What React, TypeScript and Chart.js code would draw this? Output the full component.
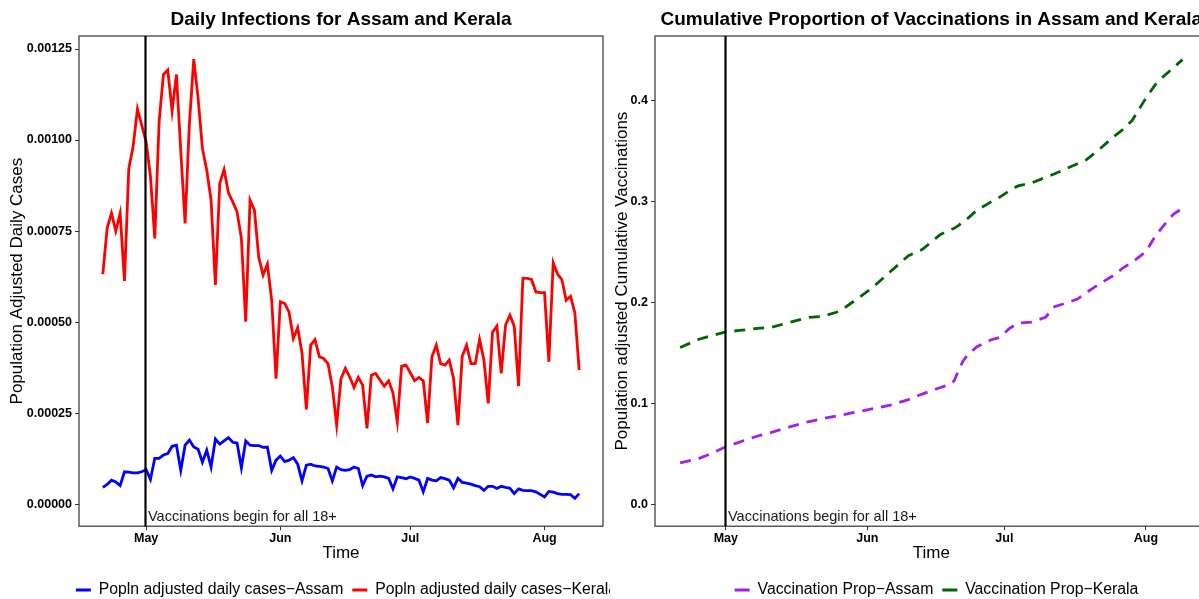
import React, { useEffect, useRef } from "react";
import { Chart, registerables } from "chart.js";

Chart.register(...registerables);

const FONT = '"Liberation Sans", Arial, Helvetica, sans-serif';
Chart.defaults.font.family = FONT;

// Day offsets are counted from 2021-04-21 (day 0) to 2021-08-09 (day 110)
const START_DATE = "2021-04-21";
const MONTH_TICK_DAYS = [10, 41, 71, 102];
const MONTH_LABELS = ["May", "Jun", "Jul", "Aug"];
const VACC_START_DAY = 10;
const ANNOTATION = "Vaccinations begin for all 18+";

const CASES_Y_TICKS = [0, 0.00025, 0.0005, 0.00075, 0.001, 0.00125];
const CASES_Y_LABELS = ["0.00000", "0.00025", "0.00050", "0.00075", "0.00100", "0.00125"];
const VACC_Y_TICKS = [0, 0.1, 0.2, 0.3, 0.4];
const VACC_Y_LABELS = ["0.0", "0.1", "0.2", "0.3", "0.4"];

const KERALA_CASES = [
  6.32e-4, 7.58e-4, 7.99e-4, 7.5e-4, 7.99e-4, 6.13e-4, 9.22e-4, 9.82e-4, 1.085e-3, 1.04e-3,
  9.95e-4, 9.0e-4, 7.3e-4, 1.05e-3, 1.18e-3, 1.192e-3, 1.08e-3, 1.18e-3, 9.7e-4, 7.71e-4,
  1.046e-3, 1.222e-3, 1.115e-3, 9.77e-4, 9.17e-4, 8.35e-4, 6.02e-4, 8.81e-4, 9.19e-4, 8.55e-4,
  8.3e-4, 8.03e-4, 7.3e-4, 5.01e-4, 8.35e-4, 8.08e-4, 6.79e-4, 6.29e-4, 6.59e-4, 5.6e-4,
  3.45e-4, 5.56e-4, 5.51e-4, 5.28e-4, 4.55e-4, 4.85e-4, 4.14e-4, 2.6e-4, 4.37e-4, 4.52e-4,
  4.05e-4, 4.0e-4, 3.86e-4, 3.22e-4, 2.17e-4, 3.45e-4, 3.73e-4, 3.5e-4, 3.21e-4, 3.48e-4,
  3.27e-4, 2.08e-4, 3.54e-4, 3.59e-4, 3.41e-4, 3.24e-4, 3.39e-4, 3.06e-4, 2.26e-4, 3.79e-4,
  3.82e-4, 3.61e-4, 3.39e-4, 3.48e-4, 3.39e-4, 2.23e-4, 4.05e-4, 4.37e-4, 3.86e-4, 3.82e-4,
  3.96e-4, 3.45e-4, 2.17e-4, 4.07e-4, 4.37e-4, 3.86e-4, 3.86e-4, 4.52e-4, 3.96e-4, 2.77e-4,
  4.73e-4, 4.89e-4, 3.59e-4, 4.92e-4, 5.19e-4, 4.89e-4, 3.24e-4, 6.2e-4, 6.2e-4, 6.17e-4,
  5.83e-4, 5.81e-4, 5.81e-4, 3.91e-4, 6.63e-4, 6.32e-4, 6.17e-4, 5.6e-4, 5.71e-4, 5.26e-4,
  3.68e-4,
];

const ASSAM_CASES = [
  4.6e-5, 5.4e-5, 6.6e-5, 6.1e-5, 5.1e-5, 8.9e-5, 8.8e-5, 8.6e-5, 8.6e-5, 8.9e-5,
  9.5e-5, 6.8e-5, 1.26e-4, 1.26e-4, 1.35e-4, 1.39e-4, 1.59e-4, 1.62e-4, 9.3e-5, 1.62e-4,
  1.76e-4, 1.57e-4, 1.51e-4, 1.15e-4, 1.48e-4, 1.02e-4, 1.79e-4, 1.65e-4, 1.74e-4, 1.83e-4,
  1.7e-4, 1.68e-4, 1.0e-4, 1.74e-4, 1.62e-4, 1.61e-4, 1.61e-4, 1.56e-4, 1.57e-4, 9.3e-5,
  1.21e-4, 1.32e-4, 1.17e-4, 1.21e-4, 1.28e-4, 1.1e-4, 6.4e-5, 1.07e-4, 1.1e-4, 1.05e-4,
  1.04e-4, 1.02e-4, 9.8e-5, 6.4e-5, 1.02e-4, 9.5e-5, 9.3e-5, 9.5e-5, 1.02e-4, 9.8e-5,
  5.1e-5, 7.7e-5, 8.0e-5, 7.5e-5, 7.7e-5, 7.5e-5, 7.1e-5, 4.2e-5, 7.5e-5, 7.3e-5,
  7.0e-5, 7.5e-5, 7.1e-5, 6.6e-5, 3.4e-5, 7.1e-5, 6.6e-5, 6.4e-5, 7.3e-5, 7.0e-5,
  6.6e-5, 4.5e-5, 7.1e-5, 6.0e-5, 5.8e-5, 5.5e-5, 5.1e-5, 4.8e-5, 3.8e-5, 4.9e-5,
  4.9e-5, 4.3e-5, 4.9e-5, 4.6e-5, 4.4e-5, 2.9e-5, 4.2e-5, 3.8e-5, 3.7e-5, 3.7e-5,
  3.4e-5, 2.7e-5, 2.0e-5, 3.5e-5, 3.3e-5, 2.9e-5, 2.7e-5, 2.7e-5, 2.6e-5, 1.6e-5,
  2.9e-5,
];

const VACC_DAYS = [
  0, 4, 7, 10, 13, 17, 20, 24, 28, 31, 35, 39, 42, 46, 50, 53, 57, 59, 60, 61, 62,
  63, 65, 68, 70, 72, 74, 77, 80, 82, 85, 87, 89, 92, 95, 97, 99, 102, 104, 106, 108, 110,
];

const ASSAM_VACC = [
  0.041, 0.045, 0.0505, 0.0568, 0.0615, 0.0675, 0.071, 0.0765, 0.0815, 0.0845, 0.088,
  0.0916, 0.0943, 0.098, 0.1035, 0.109, 0.1155, 0.1185, 0.122, 0.133, 0.142, 0.148,
  0.1558, 0.1625, 0.165, 0.1735, 0.1793, 0.1803, 0.185, 0.1955, 0.1998, 0.203, 0.2095,
  0.2185, 0.2267, 0.234, 0.2395, 0.25, 0.265, 0.2765, 0.287, 0.293,
];

const KERALA_VACC = [
  0.155, 0.163, 0.167, 0.1705, 0.172, 0.174, 0.175, 0.18, 0.1848, 0.1857, 0.191,
  0.204, 0.214, 0.23, 0.246, 0.252, 0.267, 0.271, 0.273, 0.276, 0.28, 0.283,
  0.291, 0.299, 0.304, 0.31, 0.315, 0.318, 0.3235, 0.327, 0.333, 0.337, 0.341,
  0.352, 0.364, 0.371, 0.38, 0.402, 0.415, 0.424, 0.432, 0.44,
];

const X_MIN = -5.5;
const X_MAX = 115.5;

const vlinePlugin = {
  id: "vline",
  afterDatasetsDraw(chart: any) {
    const { ctx, chartArea: a, scales } = chart;
    const x = Math.round(scales.x.getPixelForValue(VACC_START_DAY)) - 0.5;
    ctx.save();
    ctx.strokeStyle = "#333333";
    ctx.lineWidth = 1.2;
    ctx.strokeRect(a.left, a.top, a.right - a.left, a.bottom - a.top);
    ctx.strokeStyle = "#000";
    ctx.lineWidth = 2.2;
    ctx.beginPath();
    ctx.moveTo(x, a.top);
    ctx.lineTo(x, a.bottom);
    ctx.stroke();
    ctx.font = `14.5px ${FONT}`;
    ctx.fillStyle = "#1a1a1a";
    ctx.textAlign = "left";
    ctx.textBaseline = "alphabetic";
    ctx.fillText(ANNOTATION, x + 2.5, a.bottom - 5.5);
    ctx.restore();
  },
};

function buildConfig(o: any) {
  return {
    type: "line",
    data: { datasets: o.datasets },
    options: {
      animation: false,
      responsive: false,
      devicePixelRatio: 1,
      events: [],
      layout: { padding: 0 },
      plugins: {
        title: {
          display: true,
          text: o.title,
          fullSize: false,
          color: "#000",
          font: { size: 19, weight: "bold" },
          padding: { top: 8, bottom: 5.2 },
        },
        legend: {
          display: true,
          position: "bottom",
          fullSize: true,
          align: "center",
          labels: {
            boxWidth: 15,
            boxHeight: 3,
            padding: 9,
            color: "#000",
            font: { size: 15.8 },
            generateLabels: (chart: any) =>
              chart.data.datasets.map((d: any, i: number) => ({
                text: d.label,
                fillStyle: d.borderColor,
                strokeStyle: d.borderColor,
                lineWidth: 0,
                lineDash: [],
                hidden: false,
                datasetIndex: i,
                fontColor: "#000",
              })),
          },
        },
        tooltip: { enabled: false },
      },
      scales: {
        x: {
          type: "linear",
          min: X_MIN,
          max: X_MAX,
          bounds: "data",
          afterBuildTicks: (s: any) => {
            s.ticks = MONTH_TICK_DAYS.map((v) => ({ value: v }));
          },
          afterFit: (s: any) => {
            s.height = 47;
          },
          ticks: {
            callback: (_v: any, i: number) => MONTH_LABELS[i],
            autoSkip: false,
            maxRotation: 0,
            color: "#000",
            font: { size: 12.5, weight: "bold" },
            padding: 1,
          },
          grid: { display: true, drawOnChartArea: false, drawTicks: true, tickLength: 4, color: "#333333" },
          border: { display: false },
          title: {
            display: true,
            text: "Time",
            color: "#000",
            font: { size: 17 },
            padding: { top: 0, bottom: 10 },
          },
        },
        y: {
          type: "linear",
          min: o.yMin,
          max: o.yMax,
          bounds: "data",
          afterBuildTicks: (s: any) => {
            s.ticks = o.yTicks.map((v: number) => ({ value: v }));
          },
          afterFit: (s: any) => {
            s.width = o.yWidth;
          },
          ticks: {
            callback: (_v: any, i: number) => o.yLabels[i],
            autoSkip: false,
            color: "#000",
            font: { size: 12.5, weight: "bold" },
            padding: 3,
          },
          grid: { display: true, drawOnChartArea: false, drawTicks: true, tickLength: 4, color: "#333333" },
          border: { display: false },
          title: {
            display: true,
            text: o.yTitle,
            color: "#000",
            font: { size: 17 },
            padding: { top: o.yTitlePad, bottom: 0 },
          },
        },
        pad: {
          type: "linear",
          position: "right",
          display: true,
          ticks: { display: false },
          grid: { display: false },
          border: { display: false },
          afterFit: (s: any) => {
            s.width = o.rightWidth;
          },
        },
      },
    },
    plugins: [vlinePlugin],
  };
}

const casesConfig = () =>
  buildConfig({
    title: "Daily Infections for Assam and Kerala",
    yTitle: "Population Adjusted Daily Cases",
    yMin: -6.044e-5,
    yMax: 1.2857e-3,
    yTicks: CASES_Y_TICKS,
    yLabels: CASES_Y_LABELS,
    yWidth: 79,
    yTitlePad: 7,
    rightWidth: 90,
    datasets: [
      {
        label: "Popln adjusted daily cases\u2212Assam",
        data: ASSAM_CASES.map((v, i) => ({ x: i, y: v })),
        borderColor: "#0000FF",
        backgroundColor: "#0000FF",
        borderWidth: 2.8,
        pointRadius: 0,
        tension: 0,
        fill: false,
      },
      {
        label: "Popln adjusted daily cases\u2212Kerala",
        data: KERALA_CASES.map((v, i) => ({ x: i, y: v })),
        borderColor: "#FF0000",
        backgroundColor: "#FF0000",
        borderWidth: 2.8,
        pointRadius: 0,
        tension: 0,
        fill: false,
      },
    ],
  });

const vaccConfig = () =>
  buildConfig({
    title: "Cumulative Proportion of Vaccinations in Assam and Kerala",
    yTitle: "Population adjusted Cumulative Vaccinations",
    yMin: -0.02178,
    yMax: 0.4634,
    yTicks: VACC_Y_TICKS,
    yLabels: VACC_Y_LABELS,
    yWidth: 45,
    yTitlePad: 2,
    rightWidth: 55.4,
    datasets: [
      {
        label: "Vaccination Prop\u2212Assam",
        data: ASSAM_VACC.map((v, i) => ({ x: VACC_DAYS[i], y: v })),
        borderColor: "#A020F0",
        backgroundColor: "#A020F0",
        borderWidth: 2.8,
        borderDash: [11, 8],
        pointRadius: 0,
        tension: 0,
        fill: false,
      },
      {
        label: "Vaccination Prop\u2212Kerala",
        data: KERALA_VACC.map((v, i) => ({ x: VACC_DAYS[i], y: v })),
        borderColor: "#006400",
        backgroundColor: "#006400",
        borderWidth: 2.8,
        borderDash: [11, 8],
        pointRadius: 0,
        tension: 0,
        fill: false,
      },
    ],
  });

function ChartCanvas(props: { make: () => any; left: number; width: number; height: number; bg?: string; z: number }) {
  const ref = useRef<HTMLCanvasElement>(null);
  useEffect(() => {
    const chart = new Chart(ref.current as HTMLCanvasElement, props.make());
    return () => chart.destroy();
  }, []);
  return (
    <canvas
      ref={ref}
      width={props.width}
      height={props.height}
      style={{
        position: "absolute",
        left: props.left,
        top: 0,
        width: props.width,
        height: props.height,
        background: props.bg || "transparent",
        zIndex: props.z,
      }}
    />
  );
}

export default function App() {
  return (
    <div
      data-start={START_DATE}
      style={{
        position: "fixed",
        left: 0,
        top: 0,
        width: 1199,
        height: 599,
        overflow: "hidden",
        background: "#fff",
      }}
    >
      <ChartCanvas make={casesConfig} left={0} width={693} height={608} z={1} />
      <ChartCanvas make={vaccConfig} left={610} width={653} height={608} bg="#fff" z={2} />
    </div>
  );
}
